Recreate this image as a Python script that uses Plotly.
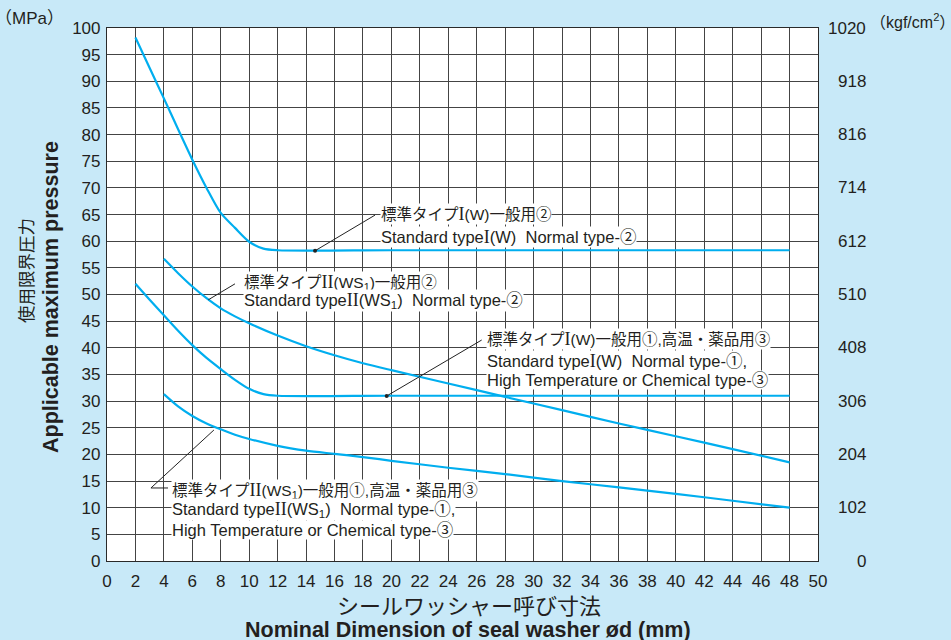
import plotly.graph_objects as go

# ---------------- data ----------------
# Standard type I(W) Normal type-2
a_x = [2, 3, 4, 5, 6, 7, 8, 9, 10, 11, 12, 20, 30, 40, 48]
a_y = [98.2, 92.5, 86.8, 81.0, 75.3, 70.0, 65.3, 62.5, 59.9, 58.6, 58.3, 58.3, 58.3, 58.3, 58.3]

# Standard type II(WS1) Normal type-2
b_x = [4, 5, 6, 7, 8, 9, 10, 12, 14, 16, 18, 20, 24, 28, 32, 36, 40, 44, 48]
b_y = [56.7, 54.0, 51.5, 49.3, 47.4, 45.9, 44.6, 42.3, 40.3, 38.6, 37.1, 35.8,
       33.3, 30.8, 28.3, 25.8, 23.4, 21.0, 18.5]

# Standard type I(W) Normal type-1, High Temperature or Chemical type-3
c_x = [2, 3, 4, 5, 6, 7, 8, 9, 10, 11, 12, 20, 30, 40, 48]
c_y = [52.0, 49.0, 46.1, 43.2, 40.5, 38.1, 36.0, 34.0, 32.3, 31.3, 31.0, 31.0, 31.0, 31.0, 31.0]

# Standard type II(WS1) Normal type-1, High Temperature or Chemical type-3
d_x = [4, 5, 6, 7, 8, 9, 10, 12, 14, 16, 18, 20, 24, 28, 32, 36, 40, 44, 48]
d_y = [31.3, 29.0, 27.2, 25.8, 24.7, 23.7, 22.9, 21.6, 20.7, 20.1, 19.5, 18.8,
       17.5, 16.3, 15.0, 13.8, 12.6, 11.3, 10.0]

x_ticks = list(range(0, 51, 2))
mpa_ticks = list(range(0, 101, 5))
kgf_ticks = [0, 102, 204, 306, 408, 510, 612, 714, 816, 918, 1020]

ROMAN1 = '<span style="font-family:Liberation Serif;font-size:18px">I</span>'
ROMAN2 = '<span style="font-family:Liberation Serif;font-size:18px">II</span>'
NB = '\u00a0'

# (x, y, text, is_japanese)
labels = [
    (19.2, 65.1, f"標準タイプ{ROMAN1}(W)一般用②", True),
    (19.2, 60.8, f"Standard type{ROMAN1}(W){NB}{NB}Normal type-②", False),
    (9.56, 52.2, f"標準タイプ{ROMAN2}(WS<sub>1</sub>)一般用②", True),
    (9.56, 48.8, f"Standard type{ROMAN2}(WS<sub>1</sub>){NB}{NB}Normal type-②", False),
    (26.65, 41.65, f"標準タイプ{ROMAN1}(W)一般用①,高温・薬品用③", True),
    (26.65, 37.5, f"Standard type{ROMAN1}(W){NB}{NB}Normal type-①,", False),
    (26.65, 33.96, "High Temperature or Chemical type-③", False),
    (4.48, 13.3, f"標準タイプ{ROMAN2}(WS<sub>1</sub>)一般用①,高温・薬品用③", True),
    (4.48, 9.57, f"Standard type{ROMAN2}(WS<sub>1</sub>){NB}{NB}Normal type-①,", False),
    (4.48, 5.8, "High Temperature or Chemical type-③", False),
]

leaders = [
    [(14.63, 58.2), (18.85, 64.9)],
    [(7.12, 49.0), (9.0, 52.0)],
    [(19.67, 30.96), (26.35, 41.46)],
    [(7.52, 24.58), (3.09, 13.7), (4.29, 13.7)],
]
dots_x = [14.63, 19.67]
dots_y = [58.2, 30.96]

# ---------------- figure ----------------
LINE = "#00aeef"
FONT = "Liberation Sans, Arial, Noto Sans CJK JP"
TXT = "#231f20"

fig = go.Figure()
for xs, ys in [(a_x, a_y), (b_x, b_y), (c_x, c_y), (d_x, d_y)]:
    fig.add_trace(go.Scatter(x=xs, y=ys, mode="lines",
                             line=dict(color=LINE, width=2.2, shape="spline", smoothing=0.8),
                             hoverinfo="skip", showlegend=False))

for pts in leaders:
    fig.add_trace(go.Scatter(x=[p[0] for p in pts], y=[p[1] for p in pts], mode="lines",
                             line=dict(color="#222", width=1), hoverinfo="skip", showlegend=False))
fig.add_trace(go.Scatter(x=dots_x, y=dots_y, mode="markers",
                         marker=dict(color="#222", size=4), hoverinfo="skip", showlegend=False))

# invisible trace on right axis
fig.add_trace(go.Scatter(x=[0], y=[0], yaxis="y2", mode="markers",
                         marker=dict(opacity=0), hoverinfo="skip", showlegend=False))

annotations = []
for x, y, t, jp in labels:
    annotations.append(dict(x=x, y=y, xref="x", yref="y", text=t, showarrow=False,
                            xanchor="left", yanchor="middle", bgcolor="white",
                            borderpad=0,
                            font=dict(size=15.5 if jp else 16.5, color=TXT, family=FONT)))

for v in kgf_ticks:
    annotations.append(dict(x=(868 - 107) / 711, y=v, xref="paper", yref="y2", text=str(v),
                            showarrow=False, xanchor="right", yanchor="middle",
                            font=dict(size=17, color=TXT, family=FONT)))

annotations += [
    dict(x=(66 - 107) / 711, y=(561 - 19) / 533, xref="paper", yref="paper", text="（MPa）",
         showarrow=False, xanchor="right", yanchor="middle",
         font=dict(size=17, color=TXT, family=FONT)),
    dict(x=(868 - 107) / 711, y=(561 - 21) / 533, xref="paper", yref="paper",
         text="（kgf/cm<sup>2</sup>）", showarrow=False, xanchor="left", yanchor="middle",
         font=dict(size=16, color=TXT, family=FONT)),
    dict(x=(469 - 107) / 711, y=(561 - 606) / 533, xref="paper", yref="paper",
         text="シールワッシャー呼び寸法", showarrow=False, xanchor="center", yanchor="middle",
         font=dict(size=22, color=TXT, family=FONT)),
    dict(x=(468 - 107) / 711, y=(561 - 630) / 533, xref="paper", yref="paper",
         text="<b>Nominal Dimension of seal washer ød (mm)</b>", showarrow=False,
         xanchor="center", yanchor="middle",
         font=dict(size=21.5, color=TXT, family=FONT)),
    dict(x=(27 - 107) / 711, y=(561 - 271) / 533, xref="paper", yref="paper",
         text="使用限界圧力", showarrow=False, textangle=-90, xanchor="center", yanchor="middle",
         font=dict(size=17.5, color=TXT, family=FONT)),
    dict(x=(51 - 107) / 711, y=(561 - 297) / 533, xref="paper", yref="paper",
         text="<b>Applicable maximum pressure</b>", showarrow=False, textangle=-90,
         xanchor="center", yanchor="middle",
         font=dict(size=21.5, color=TXT, family=FONT)),
]

fig.update_layout(
    width=951, height=640,
    margin=dict(l=107, r=133, t=28, b=79),
    paper_bgcolor="#c8e9f8",
    plot_bgcolor="white",
    font=dict(family=FONT, color=TXT),
    xaxis=dict(range=[0, 50], tickvals=x_ticks, ticks="", showgrid=True,
               gridcolor="#444", gridwidth=1, showline=True, linecolor="#2a2a2a",
               linewidth=1.2, mirror=True, zeroline=False, ticklabelstandoff=4,
               tickfont=dict(size=17, color=TXT, family=FONT)),
    yaxis=dict(range=[0, 100], tickvals=mpa_ticks, ticks="", showgrid=True,
               gridcolor="#444", gridwidth=1, showline=True, linecolor="#2a2a2a",
               linewidth=1.2, mirror=True, zeroline=False, ticklabelstandoff=2,
               tickfont=dict(size=17, color=TXT, family=FONT)),
    yaxis2=dict(range=[0, 1020], overlaying="y", side="right", showgrid=False,
                showticklabels=False, ticks="", zeroline=False, showline=False),
    annotations=annotations,
)

fig.write_html("out.html", config={"displayModeBar": False},
               post_script="document.body.style.margin='0px';document.body.style.background='#c8e9f8';")
